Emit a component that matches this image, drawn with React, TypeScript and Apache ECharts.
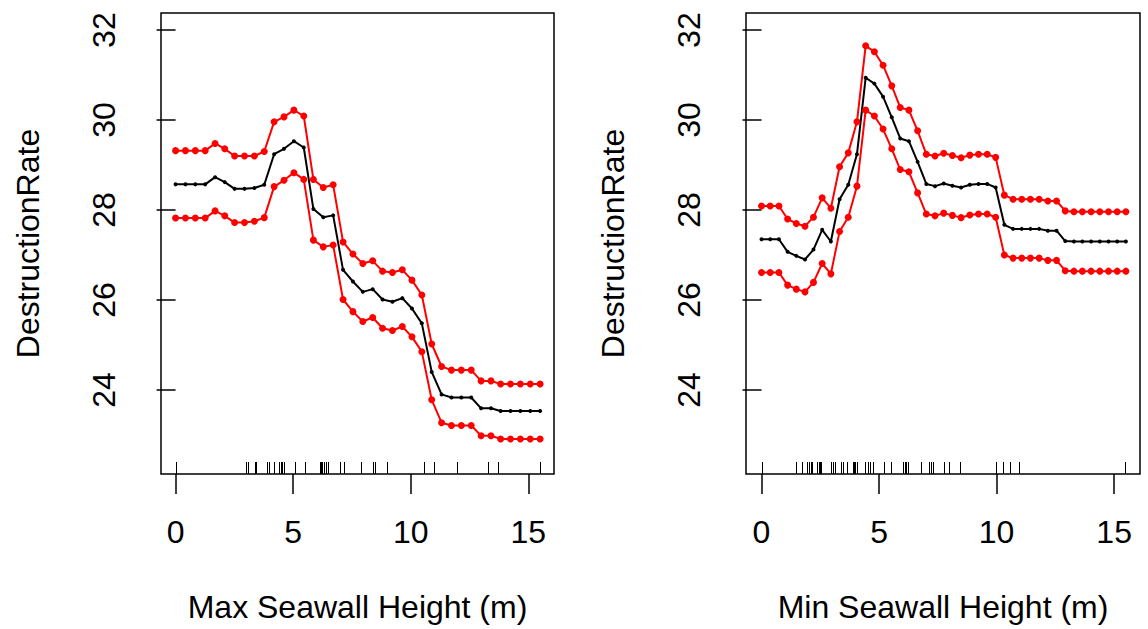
import React, { useEffect, useRef } from "react";
import * as echarts from "echarts";

const maxX = [0, 0.42, 0.84, 1.26, 1.68, 2.09, 2.51, 2.93, 3.35, 3.77, 4.19, 4.61, 5.03, 5.45, 5.86, 6.28, 6.70, 7.12, 7.54, 7.96, 8.38, 8.80, 9.22, 9.64, 10.05, 10.47, 10.89, 11.31, 11.73, 12.15, 12.57, 12.99, 13.41, 13.82, 14.24, 14.66, 15.08, 15.50];
const maxMid = [28.57, 28.57, 28.57, 28.57, 28.73, 28.62, 28.47, 28.47, 28.49, 28.56, 29.24, 29.36, 29.53, 29.39, 28.02, 27.84, 27.88, 26.67, 26.41, 26.18, 26.24, 26.01, 25.96, 26.04, 25.81, 25.48, 24.40, 23.90, 23.83, 23.83, 23.83, 23.59, 23.59, 23.53, 23.53, 23.53, 23.53, 23.53];
const maxUpper = [29.32, 29.32, 29.32, 29.32, 29.48, 29.36, 29.20, 29.20, 29.20, 29.30, 29.96, 30.07, 30.22, 30.09, 28.68, 28.50, 28.56, 27.29, 27.02, 26.81, 26.87, 26.64, 26.61, 26.67, 26.44, 26.11, 25.02, 24.52, 24.44, 24.44, 24.44, 24.20, 24.20, 24.13, 24.13, 24.13, 24.13, 24.13];
const maxLower = [27.82, 27.82, 27.82, 27.82, 27.98, 27.87, 27.72, 27.72, 27.75, 27.83, 28.52, 28.66, 28.83, 28.68, 27.33, 27.18, 27.22, 26.01, 25.74, 25.52, 25.61, 25.37, 25.32, 25.41, 25.18, 24.85, 23.78, 23.27, 23.21, 23.21, 23.21, 22.98, 22.98, 22.91, 22.91, 22.91, 22.91, 22.91];
const maxRug = [0, 2.99, 3.09, 3.38, 3.44, 3.88, 3.98, 4.17, 4.41, 4.47, 4.54, 4.61, 5.09, 5.49, 6.12, 6.17, 6.24, 6.31, 6.38, 6.46, 6.99, 7.16, 7.90, 8.40, 8.50, 8.98, 10.56, 10.97, 11.97, 13.29, 13.69, 15.48];

const minX = [0, 0.37, 0.74, 1.11, 1.48, 1.85, 2.21, 2.58, 2.95, 3.32, 3.69, 4.06, 4.43, 4.80, 5.17, 5.54, 5.90, 6.27, 6.64, 7.01, 7.38, 7.75, 8.12, 8.49, 8.86, 9.23, 9.60, 9.96, 10.33, 10.70, 11.07, 11.44, 11.81, 12.18, 12.55, 12.92, 13.29, 13.65, 14.02, 14.39, 14.76, 15.13, 15.50];
const minMid = [27.35, 27.35, 27.35, 27.07, 26.98, 26.90, 27.12, 27.56, 27.30, 28.24, 28.56, 29.24, 30.94, 30.81, 30.52, 30.06, 29.59, 29.53, 29.07, 28.58, 28.53, 28.59, 28.54, 28.50, 28.56, 28.58, 28.58, 28.50, 27.67, 27.58, 27.58, 27.58, 27.58, 27.54, 27.54, 27.31, 27.30, 27.30, 27.30, 27.30, 27.30, 27.30, 27.30];
const minUpper = [28.09, 28.09, 28.09, 27.80, 27.70, 27.64, 27.84, 28.27, 28.04, 28.96, 29.27, 29.96, 31.65, 31.52, 31.22, 30.76, 30.28, 30.22, 29.76, 29.24, 29.20, 29.26, 29.21, 29.16, 29.22, 29.24, 29.24, 29.17, 28.33, 28.24, 28.24, 28.24, 28.24, 28.20, 28.20, 27.98, 27.96, 27.96, 27.96, 27.96, 27.96, 27.96, 27.96];
const minLower = [26.61, 26.61, 26.61, 26.33, 26.24, 26.18, 26.39, 26.81, 26.58, 27.52, 27.84, 28.53, 30.22, 30.09, 29.80, 29.36, 28.90, 28.85, 28.38, 27.91, 27.87, 27.93, 27.88, 27.83, 27.89, 27.91, 27.91, 27.84, 27.00, 26.93, 26.93, 26.93, 26.93, 26.88, 26.88, 26.65, 26.64, 26.64, 26.64, 26.64, 26.64, 26.64, 26.64];
const minRug = [0, 1.48, 1.72, 1.95, 2.01, 2.09, 2.16, 2.37, 2.43, 2.47, 2.51, 2.96, 3.03, 3.13, 3.39, 3.46, 3.63, 3.88, 3.92, 3.99, 4.05, 4.41, 4.52, 4.62, 4.76, 5.19, 5.49, 6.01, 6.11, 6.15, 6.24, 6.79, 7.12, 7.22, 7.29, 7.76, 7.97, 8.46, 9.96, 10.29, 10.58, 10.97, 15.47];

const xTicks = [0, 5, 10, 15];
const yTicks = [24, 26, 28, 30, 32];
const xTitles = ["Max Seawall Height (m)", "Min Seawall Height (m)"];
const yTitle = "DestructionRate";

const FONT = "Liberation Sans, Arial, Helvetica, sans-serif";
const Y_MIN = 22.13;
const Y_MAX = 32.38;

const grids = [
  { left: 161, top: 13, width: 393, height: 461 },
  { left: 746, top: 13, width: 394, height: 461 },
];
const xRanges = [
  [-0.62, 16.09],
  [-0.66, 16.1],
];

function pair(xs: number[], ys: number[]) {
  return xs.map((x, i) => [x, ys[i]]);
}

export default function App() {
  const ref = useRef<HTMLDivElement>(null);
  useEffect(() => {
    if (!ref.current) return;
    const chart = echarts.init(ref.current, null, { renderer: "svg" });
    const panels = [
      { x: maxX, mid: maxMid, up: maxUpper, lo: maxLower, rug: maxRug },
      { x: minX, mid: minMid, up: minUpper, lo: minLower, rug: minRug },
    ];
    const series: any[] = [];
    panels.forEach((p, i) => {
      const redLine = (data: number[]) => ({
        type: "line",
        xAxisIndex: i,
        yAxisIndex: i,
        data: pair(p.x, data),
        symbol: "circle",
        symbolSize: 7,
        showAllSymbol: true,
        lineStyle: { color: "#ff0000", width: 2 },
        itemStyle: { color: "#ff0000" },
        silent: true,
      });
      series.push(redLine(p.up));
      series.push(redLine(p.lo));
      series.push({
        type: "line",
        xAxisIndex: i,
        yAxisIndex: i,
        data: pair(p.x, p.mid),
        symbol: "circle",
        symbolSize: 4,
        showAllSymbol: true,
        lineStyle: { color: "#000000", width: 2 },
        itemStyle: { color: "#000000" },
        silent: true,
      });
      series.push({
        type: "custom",
        xAxisIndex: i,
        yAxisIndex: i,
        data: p.rug.map((v) => [v, Y_MIN]),
        silent: true,
        clip: false,
        renderItem: (params: any, api: any) => {
          const pt = api.coord([api.value(0), Y_MIN]);
          const x = Math.round(pt[0]) + 0.5;
          return {
            type: "line",
            shape: { x1: x, y1: pt[1], x2: x, y2: pt[1] - 12 },
            style: { stroke: "#000000", lineWidth: 1 },
          };
        },
      });
    });

    const graphic: any[] = [];
    grids.forEach((g, i) => {
      graphic.push({
        type: "text",
        x: g.left + g.width / 2,
        y: 607,
        style: {
          text: xTitles[i],
          font: `32px ${FONT}`,
          fill: "#000000",
          textAlign: "center",
          textVerticalAlign: "middle",
        },
      });
      graphic.push({
        type: "text",
        x: g.left - 133,
        y: g.top + g.height / 2,
        rotation: Math.PI / 2,
        style: {
          text: yTitle,
          font: `32px ${FONT}`,
          fill: "#000000",
          textAlign: "center",
          textVerticalAlign: "middle",
        },
      });
    });

    chart.setOption({
      animation: false,
      backgroundColor: "#ffffff",
      grid: grids.map((g) => ({
        ...g,
        show: true,
        borderColor: "#000000",
        borderWidth: 1.5,
        backgroundColor: "transparent",
      })),
      xAxis: grids.map((_, i) => ({
        type: "value",
        gridIndex: i,
        min: xRanges[i][0],
        max: xRanges[i][1],
        axisLine: { show: false },
        splitLine: { show: false },
        axisTick: {
          show: true,
          customValues: xTicks,
          length: 20,
          lineStyle: { color: "#000000", width: 1.5 },
        },
        axisLabel: {
          customValues: xTicks,
          fontSize: 32,
          fontFamily: FONT,
          color: "#000000",
          margin: 42,
        },
      })),
      yAxis: grids.map((_, i) => ({
        type: "value",
        gridIndex: i,
        min: Y_MIN,
        max: Y_MAX,
        axisLine: { show: false },
        splitLine: { show: false },
        axisTick: {
          show: true,
          customValues: yTicks,
          length: 19,
          lineStyle: { color: "#000000", width: 1.5 },
        },
        axisLabel: {
          customValues: yTicks,
          rotate: 90,
          fontSize: 32,
          fontFamily: FONT,
          color: "#000000",
          margin: 41,
        },
      })),
      series,
      graphic,
    });
    return () => chart.dispose();
  }, []);
  return (
    <div
      ref={ref}
      style={{ position: "fixed", left: 0, top: 0, width: 1148, height: 629 }}
    />
  );
}
